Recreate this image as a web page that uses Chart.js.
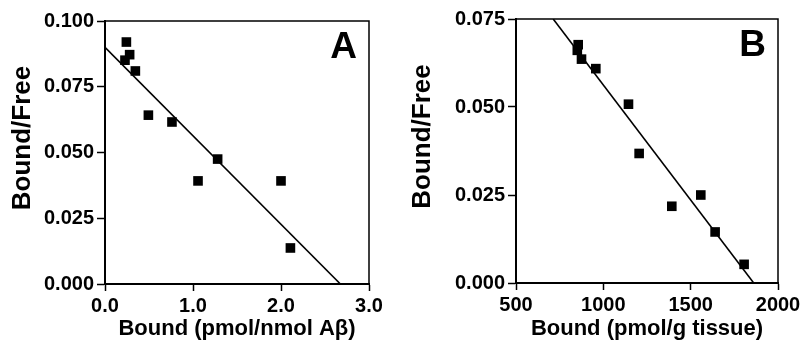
<!DOCTYPE html>
<html>
<head>
<meta charset="utf-8">
<script src="https://cdn.jsdelivr.net/npm/chart.js@4"></script>
<style>
  body { margin:0; background:#fff; }
  .panel { position:absolute; top:0; width:400px; height:342px; }
  #wrapA { left:0; }
  #wrapB { left:400px; }
</style>
</head>
<body>
<div class="panel" id="wrapA"><canvas id="chartA" width="400" height="342"></canvas></div>
<div class="panel" id="wrapB"><canvas id="chartB" width="400" height="342"></canvas></div>
<script>
// panel A - Bound (pmol/nmol Abeta) vs Bound/Free
const boundA = [0.243, 0.28, 0.227, 0.345, 0.493, 0.761, 1.28, 1.057, 2.0, 2.107];
const ratioA = [0.0920, 0.0872, 0.0851, 0.0810, 0.0642, 0.0616, 0.0475, 0.0392, 0.0392, 0.0137];
const fitAX = [0, 2.675];
const fitAY = [0.090, 0];

// panel B - Bound (pmol/g tissue) vs Bound/Free
const boundB = [856, 851, 875, 957, 1144, 1205, 1392, 1558, 1640, 1806];
const ratioB = [0.0677, 0.0661, 0.0636, 0.0609, 0.0508, 0.0368, 0.0218, 0.0250, 0.0145, 0.0053];
const fitBX = [713, 1861];
const fitBY = [0.075, 0];

const yTicksA = [0, 0.025, 0.05, 0.075, 0.1];
const xTicksA = [0, 1, 2, 3];
const yTicksB = [0, 0.025, 0.05, 0.075];
const xTicksB = [500, 1000, 1500, 2000];

Chart.defaults.font.family = '"Liberation Sans", Arial, sans-serif';
Chart.defaults.font.weight = 'bold';
Chart.defaults.color = '#000';

const toXY = (xs, ys) => xs.map((x, i) => ({x, y: ys[i]}));

// top/right frame lines + panel letter
const panelFrame = {
  id: 'panelFrame',
  afterDraw(chart, args, opts) {
    const {ctx, chartArea: a} = chart;
    ctx.save();
    ctx.strokeStyle = '#000';
    ctx.lineWidth = 1.5;
    ctx.beginPath();
    ctx.moveTo(a.left, a.top);
    ctx.lineTo(a.right, a.top);
    ctx.lineTo(a.right, a.bottom);
    ctx.stroke();
    ctx.fillStyle = '#000';
    ctx.font = 'bold 37px "Liberation Sans", Arial, sans-serif';
    ctx.textAlign = 'right';
    ctx.textBaseline = 'alphabetic';
    ctx.fillText(opts.letter, a.right - 12, a.top + 37);
    ctx.restore();
  }
};

function makePanel(id, o) {
  new Chart(document.getElementById(id), {
    type: 'scatter',
    data: {
      datasets: [
        { data: toXY(o.xs, o.ys), pointStyle: 'rect', pointRadius: 6.8, pointBorderWidth: 0,
          backgroundColor: '#000', borderColor: '#000' },
        { data: toXY(o.fitX, o.fitY), showLine: true, pointRadius: 0, borderColor: '#000',
          borderWidth: 1.6, fill: false }
      ]
    },
    options: {
      responsive: false,
      animation: false,
      layout: { padding: o.pad },
      plugins: { legend: { display: false }, tooltip: { enabled: false }, panelFrame: { letter: o.letter } },
      scales: {
        x: {
          type: 'linear', min: o.xTicks[0], max: o.xTicks[o.xTicks.length - 1],
          afterBuildTicks: s => { s.ticks = o.xTicks.map(v => ({value: v})); },
          afterFit: s => { s.height = o.xH; s.paddingLeft = 0; s.paddingRight = 0; },
          grid: { drawOnChartArea: false, tickLength: 7, tickWidth: 1.5, tickColor: '#000' },
          border: { display: true, color: '#000', width: 2 },
          ticks: { font: { size: 20, weight: 'bold' }, padding: 3, maxRotation: 0, callback: o.xFmt },
          title: { display: true, text: o.xTitle, font: { size: 22, weight: 'bold' }, padding: { top: 0, bottom: 0 } }
        },
        y: {
          type: 'linear', min: 0, max: o.yTicks[o.yTicks.length - 1],
          afterBuildTicks: s => { s.ticks = o.yTicks.map(v => ({value: v})); },
          afterFit: s => { s.width = o.yW; s.paddingTop = 0; s.paddingBottom = 0; },
          grid: { drawOnChartArea: false, tickLength: 8, tickWidth: 1.5, tickColor: '#000' },
          border: { display: true, color: '#000', width: 2 },
          ticks: { font: { size: 20, weight: 'bold' }, padding: 3, callback: v => v.toFixed(3) },
          title: { display: true, text: '    Bound/Free', font: { size: 26, weight: 'bold' }, padding: { top: 7, bottom: 0 } }
        }
      }
    },
    plugins: [panelFrame]
  });
}

makePanel('chartA', {
  xs: boundA, ys: ratioA, fitX: fitAX, fitY: fitAY, letter: 'A',
  xTicks: xTicksA, yTicks: yTicksA, xFmt: v => v.toFixed(1),
  xTitle: 'Bound (pmol/nmol A\u03b2)',
  pad: { left: 0, right: 31, top: 21, bottom: 0 }, yW: 105, xH: 58
});

makePanel('chartB', {
  xs: boundB, ys: ratioB, fitX: fitBX, fitY: fitBY, letter: 'B',
  xTicks: xTicksB, yTicks: yTicksB, xFmt: v => String(v),
  xTitle: 'Bound (pmol/g tissue)',
  pad: { left: 0, right: 22, top: 19, bottom: 0 }, yW: 116, xH: 59
});
</script>
</body>
</html>
